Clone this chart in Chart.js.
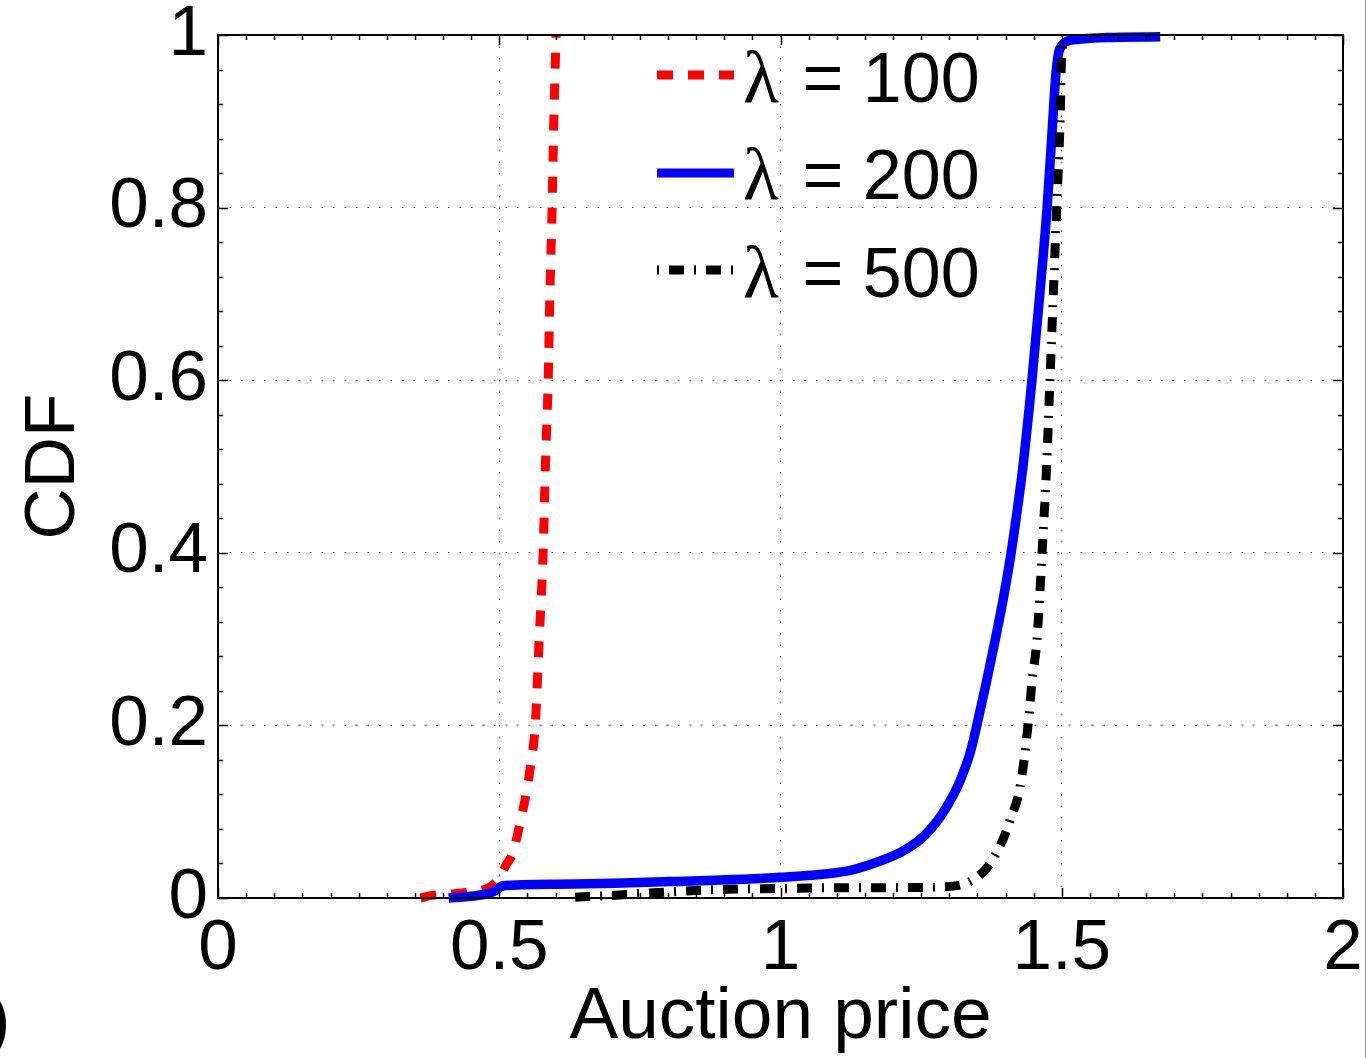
<!DOCTYPE html>
<html><head><meta charset="utf-8">
<script src="https://cdn.jsdelivr.net/npm/chart.js@4.4.0/dist/chart.umd.min.js"></script>
<style>html,body{margin:0;padding:0;background:#fff;overflow:hidden}</style>
</head><body>
<canvas id="c" width="1369" height="1058"></canvas>
<script>
// ---- data ----
const lambdaLabels = ['100', '200', '500'];

const price100 = [0.36, 0.38, 0.42, 0.45, 0.484, 0.501, 0.512, 0.524, 0.537, 0.549, 0.556, 0.564, 0.571, 0.578, 0.582, 0.587, 0.590, 0.594, 0.597, 0.601];
const cdf100   = [0, 0.003, 0.005, 0.007, 0.013, 0.024, 0.038, 0.052, 0.087, 0.125, 0.155, 0.2, 0.3, 0.4, 0.5, 0.6, 0.7, 0.8, 0.9, 1.0];

const price200 = [0.41, 0.45, 0.48, 0.495, 0.505, 0.6, 0.8, 1.0, 1.124, 1.182, 1.214, 1.243, 1.257, 1.271, 1.287, 1.301, 1.314, 1.323, 1.33, 1.337, 1.343, 1.349, 1.366, 1.382, 1.397, 1.410, 1.421, 1.431, 1.447, 1.461, 1.474, 1.484, 1.489, 1.494, 1.5, 1.51, 1.53, 1.58, 1.675];
const cdf200   = [0, 0.002, 0.005, 0.009, 0.014, 0.016, 0.019, 0.024, 0.032, 0.044, 0.053, 0.065, 0.073, 0.083, 0.097, 0.112, 0.128, 0.142, 0.154, 0.168, 0.183, 0.2, 0.25, 0.3, 0.35, 0.4, 0.45, 0.5, 0.6, 0.7, 0.8, 0.9, 0.95, 0.978, 0.988, 0.993, 0.995, 0.997, 0.998];

const price500 = [0.635, 0.7, 0.8, 0.9, 1.0, 1.1, 1.2, 1.29, 1.31, 1.33, 1.345, 1.36, 1.373, 1.385, 1.397, 1.408, 1.426, 1.44, 1.447, 1.456, 1.465, 1.473, 1.479, 1.485, 1.491, 1.497, 1.5, 1.503];
const cdf500   = [0.001, 0.003, 0.007, 0.01, 0.011, 0.012, 0.012, 0.013, 0.014, 0.017, 0.022, 0.03, 0.04, 0.054, 0.07, 0.09, 0.129, 0.2, 0.25, 0.3, 0.4, 0.5, 0.6, 0.7, 0.8, 0.9, 0.98, 0.99];

const xTickValues = [0, 0.5, 1, 1.5, 2];
const xTickLabels = ['0', '0.5', '1', '1.5', '2'];
const yTickValues = [0, 0.2, 0.4, 0.6, 0.8, 1];
const yTickLabels = ['0', '0.2', '0.4', '0.6', '0.8', '1'];
const xAxisTitle = 'Auction price';
const yAxisTitle = 'CDF';

// ---- styles ----
const SANS = '"Liberation Sans", Arial, Helvetica, sans-serif';
const SERIF = '"Liberation Serif", "Times New Roman", serif';
const styles = [
  { color: '#ff0000', dash: [16, 15], width: 9 },
  { color: '#0000ff', dash: [], width: 9.5 },
  { color: '#000000', dash: [15, 10, 2, 10], width: 9 }
];

function pts(xs, ys) { return xs.map((x, i) => ({ x: x, y: ys[i] })); }

const datasets = [
  { label: lambdaLabels[0], data: pts(price100, cdf100), order: 2 },
  { label: lambdaLabels[1], data: pts(price200, cdf200), order: 1 },
  { label: lambdaLabels[2], data: pts(price500, cdf500), order: 0 }
].map((d, i) => Object.assign(d, {
  borderColor: styles[i].color,
  borderWidth: styles[i].width,
  borderDash: styles[i].dash,
  borderCapStyle: 'butt',
  borderJoinStyle: 'round',
  pointRadius: 0,
  fill: false,
  cubicInterpolationMode: 'monotone',
  clip: 6
}));

const framePlugin = {
  id: 'frame',
  afterDatasetsDraw(chart) {
    const { ctx, chartArea: a, scales: { x, y } } = chart;
    ctx.save();
    ctx.strokeStyle = '#000';
    ctx.setLineDash([]);
    ctx.lineWidth = 1.5;
    ctx.beginPath();
    for (let k = 0; k <= 40; k++) {
      const v = k * 0.05;
      const px = Math.round(x.getPixelForValue(v)) + 0.5;
      const len = (k % 10 === 0) ? 10 : 5;
      ctx.moveTo(px, a.bottom); ctx.lineTo(px, a.bottom - len);
      ctx.moveTo(px, a.top); ctx.lineTo(px, a.top + len);
    }
    for (let k = 0; k <= 25; k++) {
      const v = k * 0.04;
      const py = Math.round(y.getPixelForValue(v)) + 0.5;
      const len = (k % 5 === 0) ? 10 : 5;
      ctx.moveTo(a.left, py); ctx.lineTo(a.left + len, py);
      ctx.moveTo(a.right, py); ctx.lineTo(a.right - len, py);
    }
    ctx.stroke();
    ctx.lineWidth = 2;
    ctx.strokeRect(a.left, a.top, a.right - a.left, a.bottom - a.top);
    ctx.restore();
  },
  afterDraw(chart) {
    const { ctx } = chart;
    ctx.save();
    const rowsY = [75, 173, 270];
    const baseY = [102, 199, 297];
    for (let i = 0; i < 3; i++) {
      ctx.beginPath();
      ctx.strokeStyle = styles[i].color;
      ctx.lineWidth = 9;
      ctx.lineCap = 'butt';
      ctx.setLineDash(i === 2 ? [2, 10, 15, 10] : styles[i].dash);
      ctx.moveTo(657, rowsY[i]); ctx.lineTo(734, rowsY[i]);
      ctx.stroke();
      ctx.setLineDash([]);
      ctx.fillStyle = '#000';
      ctx.textBaseline = 'alphabetic';
      ctx.textAlign = 'left';
      ctx.font = '74px ' + SERIF;
      ctx.fillText('\u03bb', 743, baseY[i]);
      ctx.font = '70px ' + SANS;
      ctx.fillText(' = ' + lambdaLabels[i], 783, baseY[i]);
    }
    ctx.font = '70px ' + SANS;
    ctx.fillText(')', -13, 1043);
    ctx.fillStyle = '#9a9a9a';
    ctx.fillRect(1365, 0, 1, 1058);
    ctx.restore();
  }
};

new Chart(document.getElementById('c'), {
  type: 'line',
  data: { datasets: datasets },
  plugins: [framePlugin],
  options: {
    responsive: false,
    animation: false,
    devicePixelRatio: 1,
    layout: { padding: { top: 35, right: 26, left: 0, bottom: 0 } },
    plugins: { legend: { display: false }, tooltip: { enabled: false } },
    scales: {
      x: {
        type: 'linear', min: 0, max: 2,
        afterBuildTicks: s => { s.ticks = xTickValues.map(v => ({ value: v })); },
        afterFit: s => { s.height = 160; s.paddingLeft = 0; s.paddingRight = 0; },
        ticks: {
          callback: (v, i) => xTickLabels[i],
          font: { family: SANS, size: 71 }, color: '#000', padding: 9,
          maxRotation: 0, autoSkip: false
        },
        grid: { drawTicks: false, color: 'rgba(0,0,0,0.7)', lineWidth: 1 },
        border: { display: false, dash: [1.5, 10] },
        title: { display: true, text: xAxisTitle, color: '#000', font: { family: SANS, size: 73 }, padding: { top: 0, bottom: -4 } }
      },
      y: {
        type: 'linear', min: 0, max: 1,
        afterBuildTicks: s => { s.ticks = yTickValues.map(v => ({ value: v })); },
        afterFit: s => { s.width = 218; s.paddingTop = 0; s.paddingBottom = 0; },
        ticks: {
          callback: (v, i) => yTickLabels[i],
          font: { family: SANS, size: 71 }, color: '#000', padding: 10, autoSkip: false
        },
        grid: { drawTicks: false, color: 'rgba(0,0,0,0.7)', lineWidth: 1 },
        border: { display: false, dash: [1.5, 10] },
        title: { display: true, text: yAxisTitle, color: '#000', font: { family: SANS, size: 71 }, padding: { top: 12, bottom: 0 } }
      }
    }
  }
});
</script>
</body></html>
